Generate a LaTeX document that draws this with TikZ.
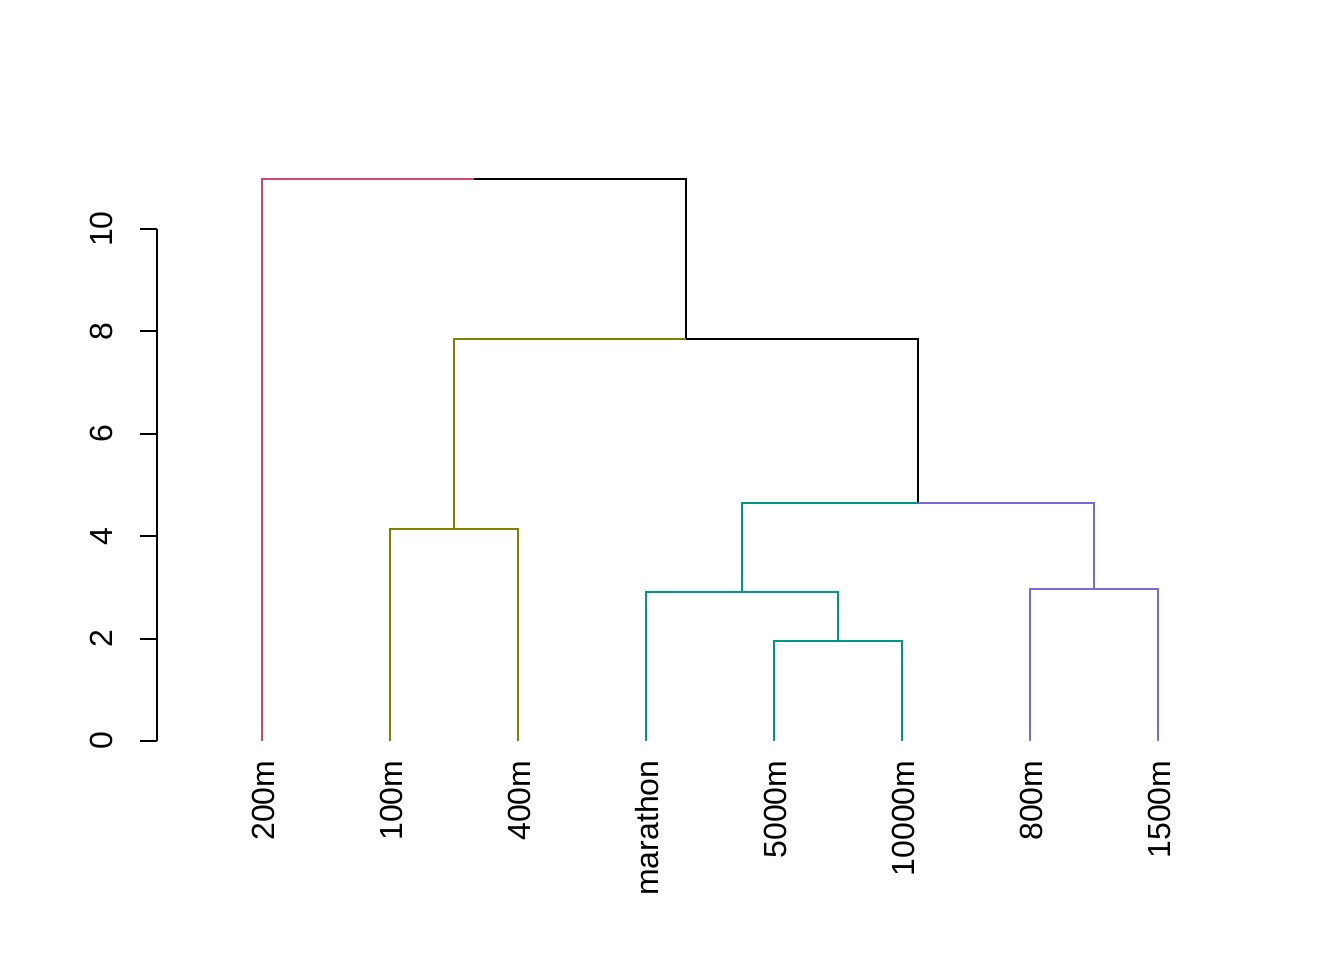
\documentclass[tikz,border=0pt]{standalone}
\usepackage{fontspec}
\setmainfont{Liberation Sans}
\definecolor{grpA}{HTML}{CD4A6E}
\definecolor{grpB}{HTML}{7F8000}
\definecolor{grpC}{HTML}{009681}
\definecolor{grpD}{HTML}{7B68D8}
\begin{document}
\begin{tikzpicture}[x=0.376406pt,y=-0.376406pt,
  branch/.style={line width=0.8pt},
  leaflabel/.style={rotate=90,anchor=base east,inner sep=0pt,font=\fontsize{12.045}{14}\selectfont},
  ticklabel/.style={rotate=90,anchor=base,inner sep=0pt,font=\fontsize{12.045}{14}\selectfont}]
\useasboundingbox (0,0) rectangle (1344,960);

% leaves (height 0)
\coordinate (l200) at (262,741);
\coordinate (l100) at (390,741);
\coordinate (l400) at (518,741);
\coordinate (lmar) at (646,741);
\coordinate (l5000) at (774,741);
\coordinate (l10000) at (902,741);
\coordinate (l800) at (1030,741);
\coordinate (l1500) at (1158,741);

% merge points
\coordinate (m1) at (838,641);
\coordinate (m2) at (742,592);
\coordinate (m3) at (1094,589);
\coordinate (m4) at (918,503);
\coordinate (m5) at (454,529);
\coordinate (m6) at (686,339);
\coordinate (m7) at (474,179);

% branches
\draw[branch,grpA] (m7) -| (l200);
\draw[branch,black] (m7) -| (m6);
\draw[branch,black] (m6) -| (m4);
\draw[branch,grpB] (m6) -| (m5);
\draw[branch,grpB] (m5) -| (l100);
\draw[branch,grpB] (m5) -| (l400);
\draw[branch,grpC] (m4) -| (m2);
\draw[branch,grpC] (m2) -| (lmar);
\draw[branch,grpC] (m2) -| (m1);
\draw[branch,grpC] (m1) -| (l5000);
\draw[branch,grpC] (m1) -| (l10000);
\draw[branch,grpD] (m4) -| (m3);
\draw[branch,grpD] (m3) -| (l800);
\draw[branch,grpD] (m3) -| (l1500);

% leaf labels
\node[leaflabel] (t200) at (274.5,760) {200m};
\node[leaflabel] (t100) at (402.5,760) {100m};
\node[leaflabel] (t400) at (530.5,760) {400m};
\node[leaflabel] (tmar) at (658.5,760) {marathon};
\node[leaflabel] (t5000) at (786.5,760) {5000m};
\node[leaflabel] (t10000) at (914.5,760) {10000m};
\node[leaflabel] (t800) at (1042.5,760) {800m};
\node[leaflabel] (t1500) at (1170.5,760) {1500m};

% height axis
\coordinate (a0) at (157,741);
\coordinate (a10) at (157,229);
\draw[line width=0.8pt] (a0) -- (a10);
\foreach \v [evaluate=\v as \py using 741-51.2*\v] in {0,2,4,6,8,10}{
  \coordinate (tk\v) at (157,\py);
  \draw[line width=0.8pt] (tk\v) -- ++(-17,0);
  \node[ticklabel] (tl\v) at (112,\py) {\v};
}
\end{tikzpicture}
\end{document}
